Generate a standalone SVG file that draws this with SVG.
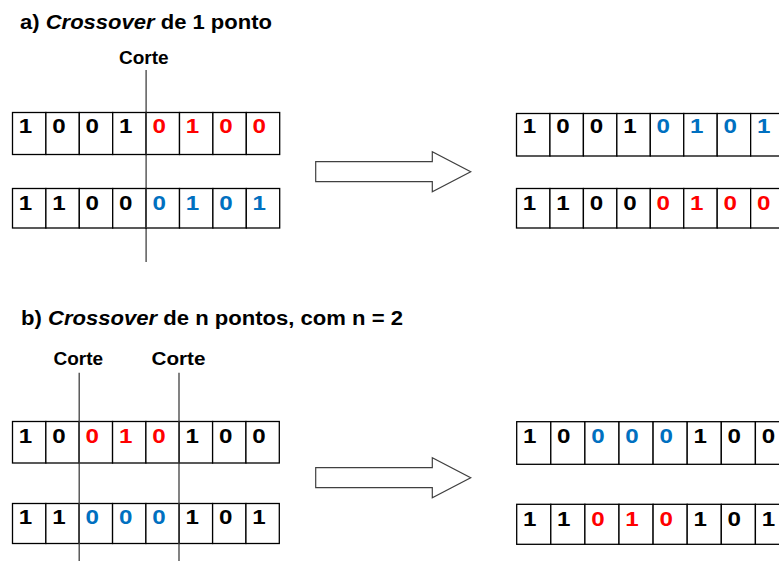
<svg xmlns="http://www.w3.org/2000/svg" width="779" height="561" viewBox="0 0 779 561">
<style>
text{font-family:"Liberation Sans",Arial,sans-serif;font-weight:bold;fill:#000}
.h{font-size:19.5px}
.lbl{font-size:19px}
.d{font-size:21px}
.r{fill:#FF0000}
.b{fill:#0070C0}
.cell{fill:#fff;stroke:#000;stroke-width:1.3}
.cut{stroke:#404040;stroke-width:1.3;fill:none}
.arr{fill:#fff;stroke:#404040;stroke-width:1.2}
</style>
<rect width="779" height="561" fill="#fff"/>
<text class="h" x="20" y="28.5" textLength="252" lengthAdjust="spacingAndGlyphs">a) <tspan font-style="italic">Crossover</tspan> de 1 ponto</text>
<text class="h" x="21" y="324.5" textLength="382" lengthAdjust="spacingAndGlyphs">b) <tspan font-style="italic">Crossover</tspan> de n pontos, com n = 2</text>

<g id="cuts-a">
<text class="lbl" x="119" y="64">Corte</text>
<line class="cut" x1="146.1" y1="70" x2="146.1" y2="262"/>
</g>

<g id="parentA1">
<rect class="cell" x="12.5" y="112.5" width="33.4" height="42"/><rect class="cell" x="45.9" y="112.5" width="33.4" height="42"/><rect class="cell" x="79.3" y="112.5" width="33.4" height="42"/><rect class="cell" x="112.7" y="112.5" width="33.4" height="42"/><rect class="cell" x="146.1" y="112.5" width="33.4" height="42"/><rect class="cell" x="179.5" y="112.5" width="33.4" height="42"/><rect class="cell" x="212.9" y="112.5" width="33.4" height="42"/><rect class="cell" x="246.3" y="112.5" width="33.4" height="42"/>
<text class="d" transform="translate(18.8 133) scale(1.15 1)">1</text><text class="d" transform="translate(52.2 133) scale(1.15 1)">0</text><text class="d" transform="translate(85.6 133) scale(1.15 1)">0</text><text class="d" transform="translate(119 133) scale(1.15 1)">1</text><text class="d r" transform="translate(152.4 133) scale(1.15 1)">0</text><text class="d r" transform="translate(185.8 133) scale(1.15 1)">1</text><text class="d r" transform="translate(219.2 133) scale(1.15 1)">0</text><text class="d r" transform="translate(252.6 133) scale(1.15 1)">0</text>
</g>
<g id="parentA2">
<rect class="cell" x="12.5" y="188.5" width="33.4" height="39.5"/><rect class="cell" x="45.9" y="188.5" width="33.4" height="39.5"/><rect class="cell" x="79.3" y="188.5" width="33.4" height="39.5"/><rect class="cell" x="112.7" y="188.5" width="33.4" height="39.5"/><rect class="cell" x="146.1" y="188.5" width="33.4" height="39.5"/><rect class="cell" x="179.5" y="188.5" width="33.4" height="39.5"/><rect class="cell" x="212.9" y="188.5" width="33.4" height="39.5"/><rect class="cell" x="246.3" y="188.5" width="33.4" height="39.5"/>
<text class="d" transform="translate(18.8 210) scale(1.15 1)">1</text><text class="d" transform="translate(52.2 210) scale(1.15 1)">1</text><text class="d" transform="translate(85.6 210) scale(1.15 1)">0</text><text class="d" transform="translate(119 210) scale(1.15 1)">0</text><text class="d b" transform="translate(152.4 210) scale(1.15 1)">0</text><text class="d b" transform="translate(185.8 210) scale(1.15 1)">1</text><text class="d b" transform="translate(219.2 210) scale(1.15 1)">0</text><text class="d b" transform="translate(252.6 210) scale(1.15 1)">1</text>
</g>
<line class="cut" x1="146.1" y1="112.5" x2="146.1" y2="154.5"/>
<line class="cut" x1="146.1" y1="188.5" x2="146.1" y2="228"/>

<g id="childA1">
<rect class="cell" x="516.5" y="113.5" width="33.45" height="42.5"/><rect class="cell" x="549.95" y="113.5" width="33.45" height="42.5"/><rect class="cell" x="583.4" y="113.5" width="33.45" height="42.5"/><rect class="cell" x="616.85" y="113.5" width="33.45" height="42.5"/><rect class="cell" x="650.3" y="113.5" width="33.45" height="42.5"/><rect class="cell" x="683.75" y="113.5" width="33.45" height="42.5"/><rect class="cell" x="717.2" y="113.5" width="33.45" height="42.5"/><rect class="cell" x="750.65" y="113.5" width="33.45" height="42.5"/>
<text class="d" transform="translate(522.8 133.3) scale(1.15 1)">1</text><text class="d" transform="translate(556.3 133.3) scale(1.15 1)">0</text><text class="d" transform="translate(589.7 133.3) scale(1.15 1)">0</text><text class="d" transform="translate(623.2 133.3) scale(1.15 1)">1</text><text class="d b" transform="translate(656.6 133.3) scale(1.15 1)">0</text><text class="d b" transform="translate(690.1 133.3) scale(1.15 1)">1</text><text class="d b" transform="translate(723.5 133.3) scale(1.15 1)">0</text><text class="d b" transform="translate(757 133.3) scale(1.15 1)">1</text>
</g>
<g id="childA2">
<rect class="cell" x="516.5" y="188.5" width="33.45" height="39.5"/><rect class="cell" x="549.95" y="188.5" width="33.45" height="39.5"/><rect class="cell" x="583.4" y="188.5" width="33.45" height="39.5"/><rect class="cell" x="616.85" y="188.5" width="33.45" height="39.5"/><rect class="cell" x="650.3" y="188.5" width="33.45" height="39.5"/><rect class="cell" x="683.75" y="188.5" width="33.45" height="39.5"/><rect class="cell" x="717.2" y="188.5" width="33.45" height="39.5"/><rect class="cell" x="750.65" y="188.5" width="33.45" height="39.5"/>
<text class="d" transform="translate(522.8 209.5) scale(1.15 1)">1</text><text class="d" transform="translate(556.3 209.5) scale(1.15 1)">1</text><text class="d" transform="translate(589.7 209.5) scale(1.15 1)">0</text><text class="d" transform="translate(623.2 209.5) scale(1.15 1)">0</text><text class="d r" transform="translate(656.6 209.5) scale(1.15 1)">0</text><text class="d r" transform="translate(690.1 209.5) scale(1.15 1)">1</text><text class="d r" transform="translate(723.5 209.5) scale(1.15 1)">0</text><text class="d r" transform="translate(757 209.5) scale(1.15 1)">0</text>
</g>

<g id="connectors">
<polygon class="arr" points="315.7,161.7 432.3,161.7 432.3,151.7 470.7,171.7 432.3,191.7 432.3,181.7 315.7,181.7"/>
<polygon class="arr" points="315.7,467.7 432.3,467.7 432.3,457.7 470.7,477.7 432.3,497.7 432.3,487.7 315.7,487.7"/>
</g>

<g id="cuts-b">
<text class="lbl" x="53.5" y="365">Corte</text>
<text class="lbl" x="151.5" y="365" textLength="54" lengthAdjust="spacingAndGlyphs">Corte</text>
</g>

<g id="parentB1">
<rect class="cell" x="12.5" y="421.5" width="33.35" height="41.5"/><rect class="cell" x="45.85" y="421.5" width="33.35" height="41.5"/><rect class="cell" x="79.2" y="421.5" width="33.35" height="41.5"/><rect class="cell" x="112.55" y="421.5" width="33.35" height="41.5"/><rect class="cell" x="145.9" y="421.5" width="33.35" height="41.5"/><rect class="cell" x="179.25" y="421.5" width="33.35" height="41.5"/><rect class="cell" x="212.6" y="421.5" width="33.35" height="41.5"/><rect class="cell" x="245.95" y="421.5" width="33.35" height="41.5"/>
<text class="d" transform="translate(18.8 442.7) scale(1.15 1)">1</text><text class="d" transform="translate(52.2 442.7) scale(1.15 1)">0</text><text class="d r" transform="translate(85.5 442.7) scale(1.15 1)">0</text><text class="d r" transform="translate(118.9 442.7) scale(1.15 1)">1</text><text class="d r" transform="translate(152.2 442.7) scale(1.15 1)">0</text><text class="d" transform="translate(185.6 442.7) scale(1.15 1)">1</text><text class="d" transform="translate(218.9 442.7) scale(1.15 1)">0</text><text class="d" transform="translate(252.3 442.7) scale(1.15 1)">0</text>
</g>
<g id="parentB2">
<rect class="cell" x="12.5" y="503.5" width="33.35" height="40"/><rect class="cell" x="45.85" y="503.5" width="33.35" height="40"/><rect class="cell" x="79.2" y="503.5" width="33.35" height="40"/><rect class="cell" x="112.55" y="503.5" width="33.35" height="40"/><rect class="cell" x="145.9" y="503.5" width="33.35" height="40"/><rect class="cell" x="179.25" y="503.5" width="33.35" height="40"/><rect class="cell" x="212.6" y="503.5" width="33.35" height="40"/><rect class="cell" x="245.95" y="503.5" width="33.35" height="40"/>
<text class="d" transform="translate(18.8 524.3) scale(1.15 1)">1</text><text class="d" transform="translate(52.2 524.3) scale(1.15 1)">1</text><text class="d b" transform="translate(85.5 524.3) scale(1.15 1)">0</text><text class="d b" transform="translate(118.9 524.3) scale(1.15 1)">0</text><text class="d b" transform="translate(152.2 524.3) scale(1.15 1)">0</text><text class="d" transform="translate(185.6 524.3) scale(1.15 1)">1</text><text class="d" transform="translate(218.9 524.3) scale(1.15 1)">0</text><text class="d" transform="translate(252.3 524.3) scale(1.15 1)">1</text>
</g>
<line class="cut" x1="79.2" y1="372.7" x2="79.2" y2="561"/>
<line class="cut" x1="179" y1="372.7" x2="179" y2="561" stroke="#000"/>

<g id="childB1">
<rect class="cell" x="516.7" y="421.7" width="34.1" height="42.6"/><rect class="cell" x="550.8" y="421.7" width="34.1" height="42.6"/><rect class="cell" x="584.9" y="421.7" width="34.1" height="42.6"/><rect class="cell" x="619" y="421.7" width="34.1" height="42.6"/><rect class="cell" x="653.1" y="421.7" width="34.1" height="42.6"/><rect class="cell" x="687.2" y="421.7" width="34.1" height="42.6"/><rect class="cell" x="721.3" y="421.7" width="34.1" height="42.6"/><rect class="cell" x="755.4" y="421.7" width="34.1" height="42.6"/>
<text class="d" transform="translate(523 442.7) scale(1.15 1)">1</text><text class="d" transform="translate(557.1 442.7) scale(1.15 1)">0</text><text class="d b" transform="translate(591.2 442.7) scale(1.15 1)">0</text><text class="d b" transform="translate(625.3 442.7) scale(1.15 1)">0</text><text class="d b" transform="translate(659.4 442.7) scale(1.15 1)">0</text><text class="d" transform="translate(693.5 442.7) scale(1.15 1)">1</text><text class="d" transform="translate(727.6 442.7) scale(1.15 1)">0</text><text class="d" transform="translate(761.7 442.7) scale(1.15 1)">0</text>
</g>
<g id="childB2">
<rect class="cell" x="516.7" y="504.3" width="34.1" height="40"/><rect class="cell" x="550.8" y="504.3" width="34.1" height="40"/><rect class="cell" x="584.9" y="504.3" width="34.1" height="40"/><rect class="cell" x="619" y="504.3" width="34.1" height="40"/><rect class="cell" x="653.1" y="504.3" width="34.1" height="40"/><rect class="cell" x="687.2" y="504.3" width="34.1" height="40"/><rect class="cell" x="721.3" y="504.3" width="34.1" height="40"/><rect class="cell" x="755.4" y="504.3" width="34.1" height="40"/>
<text class="d" transform="translate(523 526) scale(1.15 1)">1</text><text class="d" transform="translate(557.1 526) scale(1.15 1)">1</text><text class="d r" transform="translate(591.2 526) scale(1.15 1)">0</text><text class="d r" transform="translate(625.3 526) scale(1.15 1)">1</text><text class="d r" transform="translate(659.4 526) scale(1.15 1)">0</text><text class="d" transform="translate(693.5 526) scale(1.15 1)">1</text><text class="d" transform="translate(727.6 526) scale(1.15 1)">0</text><text class="d" transform="translate(761.7 526) scale(1.15 1)">1</text>
</g>
</svg>
